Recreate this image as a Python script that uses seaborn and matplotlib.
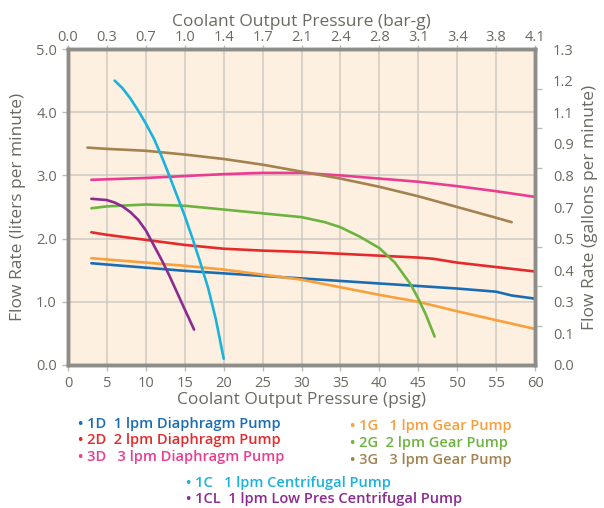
"""
Pump flow curves: flow rate vs coolant output pressure.
"""
import numpy as np
import pandas as pd
import seaborn as sns
import matplotlib.pyplot as plt

# Curve data (psig, liters per minute).
d1_psi = [3, 10, 15, 20, 25, 30, 35, 40, 45, 50, 55, 57, 60]
d1_lpm = [1.61, 1.54, 1.49, 1.45, 1.41, 1.37, 1.33, 1.29, 1.25, 1.21, 1.16, 1.10, 1.05]

d2_psi = [3, 5, 10, 15, 20, 25, 30, 35, 40, 45, 47, 50, 55, 60]
d2_lpm = [2.10, 2.06, 1.98, 1.90, 1.84, 1.81, 1.79, 1.76, 1.73, 1.70, 1.68, 1.62, 1.55, 1.48]

d3_psi = [3, 10, 15, 20, 25, 30, 35, 40, 45, 50, 55, 60]
d3_lpm = [2.93, 2.96, 2.99, 3.02, 3.04, 3.04, 3.00, 2.95, 2.90, 2.83, 2.75, 2.66]

g1_psi = [3, 10, 15, 20, 25, 30, 35, 40, 45, 50, 55, 60]
g1_lpm = [1.69, 1.62, 1.57, 1.51, 1.43, 1.35, 1.23, 1.11, 1.00, 0.85, 0.71, 0.57]

g2_psi = [3, 5, 10, 15, 20, 25, 30, 33, 35, 37.5, 40, 42, 44, 45, 46, 47.1]
g2_lpm = [2.48, 2.51, 2.54, 2.52, 2.46, 2.40, 2.34, 2.26, 2.18, 2.03, 1.85, 1.62, 1.28, 1.05, 0.79, 0.45]

g3_psi = [2.5, 5, 10, 15, 20, 25, 30, 35, 40, 45, 50, 55, 57]
g3_lpm = [3.44, 3.42, 3.39, 3.33, 3.26, 3.17, 3.06, 2.95, 2.82, 2.67, 2.50, 2.33, 2.26]

c1_psi = [6, 7, 8, 9, 10, 11, 12, 13, 14, 15, 16, 17, 18, 19, 20]
c1_lpm = [4.50, 4.38, 4.22, 4.03, 3.82, 3.59, 3.31, 3.00, 2.68, 2.36, 2.00, 1.62, 1.22, 0.72, 0.10]

cl_psi = [3, 5, 6, 7, 8, 9, 10, 11, 12, 13, 14, 15, 16.2]
cl_lpm = [2.63, 2.61, 2.57, 2.51, 2.42, 2.30, 2.13, 1.90, 1.67, 1.42, 1.15, 0.88, 0.56]

pumps = ["1D", "2D", "3D", "1G", "2G", "3G", "1C", "1CL"]
names = ["1 lpm Diaphragm Pump", "2 lpm Diaphragm Pump", "3 lpm Diaphragm Pump",
         "1 lpm Gear Pump", "2 lpm Gear Pump", "3 lpm Gear Pump",
         "1 lpm Centrifugal Pump", "1 lpm Low Pres Centrifugal Pump"]
colors = ["#1a6db3", "#e42a2a", "#ea3d92", "#f9a03c",
          "#6db33f", "#a3824f", "#1ab2dc", "#8c2b8f"]

# Axis tick labels.
psi_ticks = list(range(0, 61, 5))
bar_labels = ["0.0", "0.3", "0.7", "1.0", "1.4", "1.7", "2.1",
              "2.4", "2.8", "3.1", "3.4", "3.8", "4.1"]
lpm_ticks = [0, 1, 2, 3, 4, 5]
lpm_labels = ["0.0", "1.0", "2.0", "3.0", "4.0", "5.0"]
gpm_labels = ["0.0", "0.1", "0.3", "0.4", "0.5", "0.7",
              "0.8", "0.9", "1.1", "1.2", "1.3"]

series = [(d1_psi, d1_lpm), (d2_psi, d2_lpm), (d3_psi, d3_lpm),
          (g1_psi, g1_lpm), (g2_psi, g2_lpm), (g3_psi, g3_lpm),
          (c1_psi, c1_lpm), (cl_psi, cl_lpm)]
rows = []
for p, (xs, ys) in zip(pumps, series):
    for x, y in zip(xs, ys):
        rows.append({"pump": p, "psi": x, "lpm": y})
df = pd.DataFrame(rows)

sns.set_theme(style="white")
plt.rcParams["font.family"] = ["Open Sans", "DejaVu Sans"]
txt = "#6b6a60"
spine = "#8d8d8a"
grid = "#cdc9c2"

fig = plt.figure(figsize=(6.04, 5.08), dpi=100)
ax = fig.add_axes([0.1126, 0.2815, 0.7732, 0.622])
ax.set_facecolor("#fdf0e1")

sns.lineplot(data=df, x="psi", y="lpm", hue="pump", hue_order=pumps,
             palette=colors, estimator=None, sort=False, legend=False,
             linewidth=1.9, ax=ax)

ax.set_xlim(0, 60)
ax.set_ylim(0, 5)
ax.set_xticks(psi_ticks)
ax.set_yticks(lpm_ticks)
ax.set_yticklabels(lpm_labels)
ax.grid(True, color=grid, linewidth=1.1)
ax.set_axisbelow(True)
for s in ax.spines.values():
    s.set_color(spine)
    s.set_linewidth(2.4)
ax.tick_params(axis="both", colors="#bdbdb8", labelcolor=txt, labelsize=10.5,
               direction="out", length=4, width=1, left=True, bottom=True)
ax.tick_params(axis="y", pad=4)
ax.tick_params(axis="x", pad=4)
ax.set_xlabel("Coolant Output Pressure (psig)", color=txt, fontsize=12.5,
              labelpad=1, fontweight="medium")
ax.set_ylabel("Flow Rate (liters per minute)", color=txt, fontsize=12.5,
              labelpad=7, fontweight="medium")

# Top axis in bar-g.
axt = ax.twiny()
axt.set_xlim(0, 60)
axt.set_xticks(psi_ticks)
axt.set_xticklabels(bar_labels)
axt.tick_params(axis="x", colors="#bdbdb8", labelcolor=txt, labelsize=10.5,
                direction="out", length=3, width=1, pad=0, top=True)
axt.set_xlabel("Coolant Output Pressure (bar-g)", color=txt, fontsize=12.5,
               labelpad=3, fontweight="medium")

# Right axis in gallons per minute.
axr = ax.twinx()
axr.set_ylim(0, 5)
axr.set_yticks(np.linspace(0, 5, 11))
axr.set_yticklabels(gpm_labels)
axr.set_yticks(np.linspace(0, 5, 9), minor=True)
axr.tick_params(axis="y", which="major", length=0, labelcolor=txt,
                labelsize=10.5, pad=13, right=True)
axr.tick_params(axis="y", which="minor", length=5, width=1,
                colors="#bdbdb8", direction="out", right=True)
axr.set_ylabel("Flow Rate (gallons per minute)", color=txt, fontsize=12.5,
               labelpad=6, fontweight="medium")
for a in (axt, axr):
    for s in a.spines.values():
        s.set_color(spine)
        s.set_linewidth(2.4)

# Legend as coloured bullet text.
legend_pos = [(78, 424), (78, 440), (78, 457),
              (350, 426), (350, 443), (350, 460),
              (186, 483), (186, 499)]
wide_gap = ["3D", "1G", "3G", "1C"]
for p, n, c, (x, y) in zip(pumps, names, colors, legend_pos):
    gap = "   " if p in wide_gap else "  "
    fig.text(x / 604, 1 - y / 508, "\u2022 " + p + gap + n, color=c,
             fontsize=10.5, fontweight="semibold", va="center", ha="left")

plt.savefig("out.png", dpi=100)
